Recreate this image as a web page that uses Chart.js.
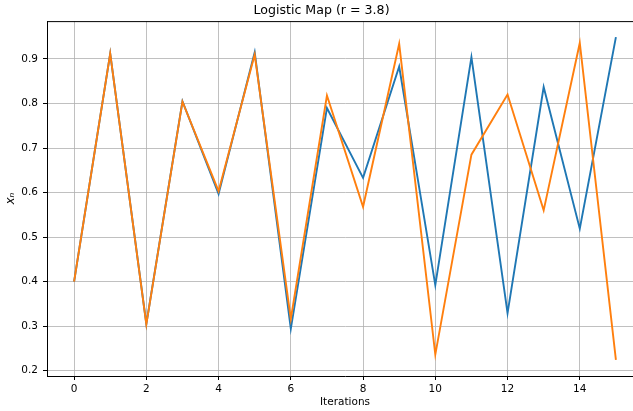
<!DOCTYPE html>
<html>
<head>
<meta charset="utf-8">
<script src="https://cdn.jsdelivr.net/npm/chart.js@4/dist/chart.umd.min.js"></script>
<style>
  html, body { margin: 0; padding: 0; background: #fff; overflow: hidden; }
  #wrap { width: 643px; height: 411px; }
</style>
</head>
<body>
<div id="wrap"><canvas id="logistic"></canvas></div>
<script>
// iterations of x(n+1) = r * x(n) * (1 - x(n)), two nearby starting values
const iterations = [0, 1, 2, 3, 4, 5, 6, 7, 8, 9, 10, 11, 12, 13, 14, 15];
const seriesA = [0.400, 0.912, 0.305, 0.805, 0.597, 0.915, 0.294, 0.790, 0.633, 0.883,
                 0.392, 0.904, 0.329, 0.837, 0.519, 0.949];
const seriesB = [0.400, 0.912, 0.304, 0.804, 0.603, 0.910, 0.316, 0.818, 0.568, 0.934,
                 0.236, 0.685, 0.820, 0.560, 0.936, 0.224];
const xTicks = [0, 2, 4, 6, 8, 10, 12, 14];
const yTicks = [0.2, 0.3, 0.4, 0.5, 0.6, 0.7, 0.8, 0.9];

const toPoints = vals => vals.map((v, i) => ({ x: iterations[i], y: v }));

// top spine, like a boxed axes frame
const frame = {
    id: 'frame',
    afterDraw(chart) {
        const { ctx, chartArea } = chart;
        ctx.save();
        ctx.strokeStyle = '#000';
        ctx.lineWidth = 1;
        ctx.beginPath();
        ctx.moveTo(chartArea.left, chartArea.top + 0.5);
        ctx.lineTo(chartArea.right, chartArea.top + 0.5);
        ctx.stroke();
        ctx.restore();
    }
};

const font = { family: 'DejaVu Sans', size: 10.5 };

new Chart(document.getElementById('logistic').getContext('2d'), {
    type: 'line',
    data: {
        datasets: [
            // lower order is painted last, so the second run sits on top
            { data: toPoints(seriesA), borderColor: '#1f77b4', borderWidth: 1.9, pointRadius: 0, tension: 0, order: 1 },
            { data: toPoints(seriesB), borderColor: '#ff7f0e', borderWidth: 1.9, pointRadius: 0, tension: 0, order: 0 }
        ]
    },
    options: {
        responsive: true,
        maintainAspectRatio: false,
        animation: false,
        layout: { padding: 0 },
        plugins: {
            legend: { display: false },
            tooltip: { enabled: false },
            title: {
                display: true,
                text: 'Logistic Map (r = 3.8)',
                color: '#000',
                font: { family: 'DejaVu Sans', size: 12.6, weight: 'normal' },
                padding: { top: 3, bottom: 3 }
            }
        },
        scales: {
            x: {
                type: 'linear',
                min: -0.75,
                max: 15.75,
                afterBuildTicks: s => { s.ticks = xTicks.map(v => ({ value: v })); },
                afterFit: s => { s.height = 35; },
                ticks: { color: '#000', font, padding: 3, maxRotation: 0 },
                grid: { color: '#b0b0b0', lineWidth: 0.8, tickColor: '#000', tickLength: 4, tickWidth: 1 },
                border: { color: '#000', width: 1 },
                title: { display: true, text: 'Iterations', color: '#000', font, padding: { top: 2, bottom: 2 } }
            },
            y: {
                min: 0.188,
                max: 0.985,
                afterBuildTicks: s => { s.ticks = yTicks.map(v => ({ value: v })); },
                afterFit: s => { s.width = 47; },
                ticks: { color: '#000', font, padding: 5, callback: v => v.toFixed(1) },
                grid: { color: '#b0b0b0', lineWidth: 0.8, tickColor: '#000', tickLength: 4, tickWidth: 1 },
                border: { color: '#000', width: 1 },
                title: { display: true, text: 'xₙ', color: '#000', font: { family: 'DejaVu Sans', size: 12, style: 'italic' }, padding: { top: 4, bottom: 0 } }
            }
        }
    },
    plugins: [frame]
});
</script>
</body>
</html>
